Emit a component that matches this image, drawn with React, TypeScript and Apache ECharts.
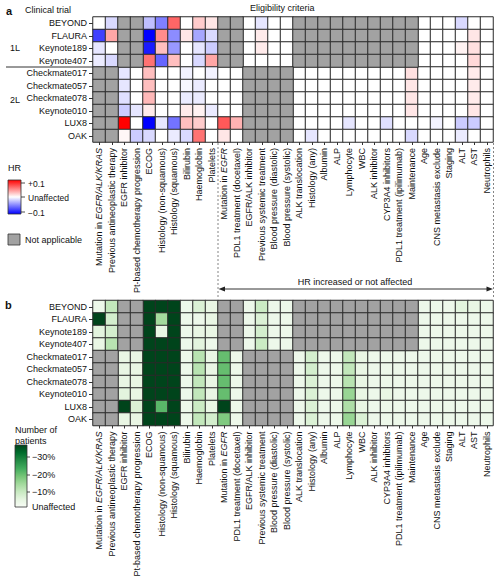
import React, { useEffect, useRef } from 'react';
import * as echarts from 'echarts';

const FONT = '"Liberation Sans", Arial, Helvetica, sans-serif';

const trials = ['BEYOND', 'FLAURA', 'Keynote189', 'Keynote407', 'Checkmate017', 'Checkmate057', 'Checkmate078', 'Keynote010', 'LUX8', 'OAK'];

const criteria = [
  'Mutation in EGFR/ALK/KRAS', 'Previous antineoplastic therapy', 'EGFR inhibitor', 'Pt-based chemotherapy progression',
  'ECOG', 'Histology (non-squamous)', 'Histology (squamous)', 'Bilirubin', 'Haemoglobin', 'Platelets',
  'Mutation in EGFR', 'PDL1 treatment (docetaxel)', 'EGFR/ALK inhibitor', 'Previous systemic treatment',
  'Blood pressure (diastolic)', 'Blood pressure (systolic)', 'ALK translocation', 'Histology (any)', 'Albumin', 'ALP',
  'Lymphocyte', 'WBC', 'ALK inhibitor', 'CYP3A4 inhibitors', 'PDL1 treatment (ipilimumab)', 'Maintenance', 'Age',
  'CNS metastasis exclude', 'Staging', 'ALT', 'AST', 'Neutrophils',
];

const N = null;
const G10 = [N, N, N, N, N, N, N, N, N, N];

// Panel a: change in hazard ratio (null = not applicable)
const hrBEYOND = [0, -0.015, N, N, -0.025, -0.05, 0.06, 0, 0.02, 0.01, N, N, 0, -0.01, 0, 0, ...G10, 0, 0, 0, -0.015, 0, 0];
const hrFLAURA = [-0.075, 0.035, N, N, -0.1, 0.045, -0.045, 0.01, -0.035, -0.015, N, N, 0, 0.008, 0, 0, ...G10, 0, 0, 0, 0, 0.01, 0];
const hrKeynote189 = [-0.01, 0, N, N, -0.09, 0.025, -0.04, 0, -0.01, -0.02, N, N, 0, 0.008, 0, 0, ...G10, 0, 0, 0, 0.005, 0.012, 0];
const hrKeynote407 = [-0.008, -0.015, N, N, 0.055, -0.06, 0.025, 0, -0.015, 0.035, N, N, 0, 0, 0, 0, ...G10, 0, 0, 0, 0, 0.015, 0];
const hrCheckmate017 = [N, N, -0.01, 0, 0.025, 0, 0, -0.005, 0, -0.005, 0, 0, N, N, N, N, 0, 0, 0, 0, 0, 0, 0, 0, 0, 0.012, 0, 0, 0, 0, 0.008, 0];
const hrCheckmate057 = [N, N, -0.01, 0, 0.025, 0, 0, -0.003, -0.008, 0, 0, 0, N, N, N, N, 0, 0, 0, 0, 0, 0, 0, 0, 0, 0.01, 0, 0, 0, 0, 0.008, 0];
const hrCheckmate078 = [N, N, -0.012, 0, 0.028, 0, 0, -0.008, -0.008, 0, 0, 0, N, N, N, N, 0, 0, 0, 0, 0, 0, 0, 0, 0, 0.01, 0, 0, 0, 0, 0.008, 0];
const hrKeynote010 = [N, N, -0.02, -0.01, 0.008, 0, 0, 0.008, 0.005, -0.008, 0, 0, N, N, N, N, 0, 0, 0, 0, 0, 0, 0, 0, 0, 0.01, 0, 0, 0, 0, 0.01, 0];
const hrLUX8 = [N, N, 0.1, 0, -0.1, -0.01, -0.055, 0.025, 0.02, 0, 0.065, 0.03, N, N, N, N, 0, 0, 0, 0, -0.01, 0, 0, -0.012, 0, 0, 0, -0.005, 0, -0.02, -0.02, 0];
const hrOAK = [N, N, 0.003, -0.02, -0.015, 0, -0.008, -0.015, 0.055, 0, 0.01, 0, N, N, N, N, 0, -0.01, 0, 0, 0, 0, 0, 0, 0, -0.015, 0, 0, 0, -0.008, 0, 0];
const hrRows = [hrBEYOND, hrFLAURA, hrKeynote189, hrKeynote407, hrCheckmate017, hrCheckmate057, hrCheckmate078, hrKeynote010, hrLUX8, hrOAK];

// Panel b: reduction in number of patients (%) (null = not applicable)
const ptBEYOND = [2, 8, N, N, 30, 30, 30, 2, 5, 3, N, N, 2, 7, 2, 2, ...G10, 2, 2, 2, 4, 3, 2];
const ptFLAURA = [30, 6, N, N, 30, 11, 30, 2, 2, 3, N, N, 2, 5, 2, 2, ...G10, 2, 2, 2, 2, 2, 2];
const ptKeynote189 = [4, 6, N, N, 30, 3, 30, 2, 3, 3, N, N, 2, 6, 2, 2, ...G10, 2, 2, 2, 2, 2, 2];
const ptKeynote407 = [3, 9, N, N, 30, 30, 30, 2, 4, 2, N, N, 2, 7, 2, 2, ...G10, 2, 2, 2, 2, 2, 2];
const ptCheckmate017 = [N, N, 3, 3, 30, 30, 30, 2, 9, 3, 16, 2, N, N, N, N, 2, 6, 2, 2, 8, 3, 2, 2, 2, 2, 2, 2, 2, 2, 2, 2];
const ptCheckmate057 = [N, N, 3, 3, 30, 30, 30, 2, 9, 3, 16, 2, N, N, N, N, 2, 6, 2, 2, 8, 3, 2, 2, 2, 2, 2, 2, 2, 2, 2, 2];
const ptCheckmate078 = [N, N, 3, 3, 30, 30, 30, 2, 8, 3, 16, 2, N, N, N, N, 2, 5, 2, 2, 9, 3, 2, 2, 2, 2, 2, 2, 2, 2, 2, 2];
const ptKeynote010 = [N, N, 4, 3, 30, 30, 30, 2, 8, 3, 16, 2, N, N, N, N, 2, 5, 2, 2, 12, 3, 2, 3, 2, 2, 2, 2, 2, 2, 2, 2];
const ptLUX8 = [N, N, 30, 5, 30, 17, 30, 2, 7, 3, 30, 2, N, N, N, N, 2, 5, 2, 2, 10, 3, 2, 2, 2, 2, 2, 2, 2, 2, 2, 2];
const ptOAK = [N, N, 3, 3, 30, 30, 30, 2, 8, 6, 14, 2, N, N, N, N, 2, 5, 2, 2, 12, 5, 2, 2, 2, 2, 2, 2, 2, 2, 2, 2];
const ptRows = [ptBEYOND, ptFLAURA, ptKeynote189, ptKeynote407, ptCheckmate017, ptCheckmate057, ptCheckmate078, ptKeynote010, ptLUX8, ptOAK];

const hrLegendTicks = ['+0.1', 'Unaffected', '\u22120.1'];
const ptLegendTicks = ['\u221230%', '\u221220%', '\u221210%', 'Unaffected'];

const GREENS = ['#f7fcf5', '#e5f5e0', '#c7e9c0', '#a1d99b', '#74c476', '#41ab5d', '#238b45', '#006d2c', '#00441b'];
const GRAY = '#a2a2a2';
const BORDER = '#2a2a2a';

function split(rows: (number | null)[][]) {
  const vals: number[][] = [];
  const na: number[][] = [];
  rows.forEach((row, r) => row.forEach((v, c) => {
    if (v === null || v === undefined) na.push([c, r, 0]);
    else vals.push([c, r, v]);
  }));
  return { vals, na };
}

function fmtCrit(v: string) {
  if (v === 'Mutation in EGFR/ALK/KRAS') return 'Mutation in {i|EGFR/ALK/KRAS}';
  if (v === 'Mutation in EGFR') return 'Mutation in {i|EGFR}';
  return v;
}

export default function App() {
  const ref = useRef<HTMLDivElement>(null);
  useEffect(() => {
    const chart = echarts.init(ref.current!, null, { renderer: 'svg' });
    const a = split(hrRows);
    const b = split(ptRows);
    const txt = (x: number, y: number, text: string, extra: any = {}) => ({
      type: 'text', x, y, silent: true,
      style: { text, fontSize: 9, fontFamily: FONT, fill: '#111', verticalAlign: 'middle', align: 'left', ...extra },
    });
    const ln = (x1: number, y1: number, x2: number, y2: number, extra: any = {}) => ({
      type: 'line', silent: true, shape: { x1, y1, x2, y2 }, style: { stroke: '#222', lineWidth: 1, ...extra },
    });

    const xAxisBase = (gridIndex: number) => ({
      type: 'category', gridIndex, data: criteria,
      axisLine: { show: false }, splitLine: { show: false },
      axisTick: { show: true, length: 3, alignWithLabel: true, lineStyle: { color: '#333' } },
      axisLabel: {
        interval: 0, rotate: 90, fontSize: 9, margin: 6, color: '#111', fontFamily: FONT,
        formatter: fmtCrit,
        rich: { i: { fontStyle: 'italic', fontSize: 9, fontFamily: FONT, color: '#111' } },
      },
    });
    const yAxisBase = (gridIndex: number) => ({
      type: 'category', gridIndex, data: trials, inverse: true,
      axisLine: { show: false }, splitLine: { show: false },
      axisTick: { show: true, length: 4, alignWithLabel: true, lineStyle: { color: '#333' } },
      axisLabel: { interval: 0, fontSize: 9, margin: 6, color: '#111', fontFamily: FONT },
    });
    const cell = { borderColor: BORDER, borderWidth: 1 };

    const graphic: any[] = [
      txt(6, 11, 'a', { fontWeight: 'bold', fontSize: 11 }),
      txt(25, 10, 'Clinical trial'),
      txt(250, 8, 'Eligibility criteria'),
      txt(10, 48, '1L'),
      txt(10, 100, '2L'),
      ln(6, 67, 93, 67, { stroke: '#333' }),
      // HR legend
      txt(8, 168, 'HR'),
      {
        type: 'rect', silent: true, shape: { x: 8, y: 180, width: 13, height: 34 },
        style: {
          fill: { type: 'linear', x: 0, y: 0, x2: 0, y2: 1, colorStops: [
            { offset: 0, color: '#ff0000' }, { offset: 0.5, color: '#ffffff' }, { offset: 1, color: '#0000ff' },
          ] },
          stroke: '#333', lineWidth: 0.8,
        },
      },
      ln(21, 183, 25, 183, { lineWidth: 0.8 }),
      ln(21, 197, 25, 197, { lineWidth: 0.8 }),
      ln(21, 212, 25, 212, { lineWidth: 0.8 }),
      txt(28, 184, hrLegendTicks[0], { fontSize: 8.5 }),
      txt(28, 198, hrLegendTicks[1], { fontSize: 8.5 }),
      txt(28, 213, hrLegendTicks[2], { fontSize: 8.5 }),
      { type: 'rect', silent: true, shape: { x: 8, y: 234, width: 12, height: 11 }, style: { fill: GRAY, stroke: '#333', lineWidth: 0.8 } },
      txt(25, 240, 'Not applicable'),
      // dashed bracket + arrow
      ln(218, 143, 218, 298, { stroke: '#666', lineDash: [2, 2], lineWidth: 0.8 }),
      ln(493.5, 143, 493.5, 298, { stroke: '#666', lineDash: [2, 2], lineWidth: 0.8 }),
      ln(223, 289, 488, 289, { stroke: '#333', lineWidth: 1 }),
      { type: 'polygon', silent: true, shape: { points: [[218.5, 289], [225, 286.6], [225, 291.4]] }, style: { fill: '#222' } },
      { type: 'polygon', silent: true, shape: { points: [[493, 289], [486.5, 286.6], [486.5, 291.4]] }, style: { fill: '#222' } },
      txt(355, 282, 'HR increased or not affected', { align: 'center' }),
      // panel b
      txt(5, 305, 'b', { fontWeight: 'bold', fontSize: 11 }),
      txt(15, 430, 'Number of'),
      txt(15, 441, 'patients'),
      {
        type: 'rect', silent: true, shape: { x: 15, y: 445, width: 12, height: 62 },
        style: {
          fill: { type: 'linear', x: 0, y: 0, x2: 0, y2: 1, colorStops: GREENS.slice().reverse().map((c, i) => ({ offset: i / (GREENS.length - 1), color: c })) },
          stroke: '#333', lineWidth: 0.8,
        },
      },
      ln(27, 457, 30, 457, { lineWidth: 0.8 }),
      ln(27, 475, 30, 475, { lineWidth: 0.8 }),
      ln(27, 492, 30, 492, { lineWidth: 0.8 }),
      txt(32, 457, ptLegendTicks[0]),
      txt(32, 475, ptLegendTicks[1]),
      txt(32, 492, ptLegendTicks[2]),
      txt(32, 507, ptLegendTicks[3]),
    ];

    chart.setOption({
      animation: false,
      textStyle: { fontFamily: FONT },
      grid: [
        { left: 93, top: 17, width: 400, height: 125 },
        { left: 93, top: 300.5, width: 400, height: 125 },
      ],
      xAxis: [xAxisBase(0), xAxisBase(1)],
      yAxis: [yAxisBase(0), yAxisBase(1)],
      visualMap: [
        { type: 'continuous', show: false, seriesIndex: 0, min: -0.1, max: 0.1, inRange: { color: ['#0000ff', '#ffffff', '#ff0000'] } },
        { type: 'continuous', show: false, seriesIndex: 2, min: 0, max: 30, inRange: { color: GREENS } },
        { type: 'continuous', show: false, seriesIndex: [1, 3], min: 0, max: 1, inRange: { color: [GRAY, GRAY] } },
      ],
      series: [
        { type: 'heatmap', xAxisIndex: 0, yAxisIndex: 0, data: a.vals, itemStyle: cell, emphasis: { disabled: true } },
        { type: 'heatmap', xAxisIndex: 0, yAxisIndex: 0, data: a.na, itemStyle: cell, emphasis: { disabled: true } },
        { type: 'heatmap', xAxisIndex: 1, yAxisIndex: 1, data: b.vals, itemStyle: cell, emphasis: { disabled: true } },
        { type: 'heatmap', xAxisIndex: 1, yAxisIndex: 1, data: b.na, itemStyle: cell, emphasis: { disabled: true } },
      ],
      graphic,
    });
    return () => chart.dispose();
  }, []);
  return <div ref={ref} style={{ position: 'fixed', left: 0, top: 0, width: 499, height: 584, background: '#fff' }} />;
}
